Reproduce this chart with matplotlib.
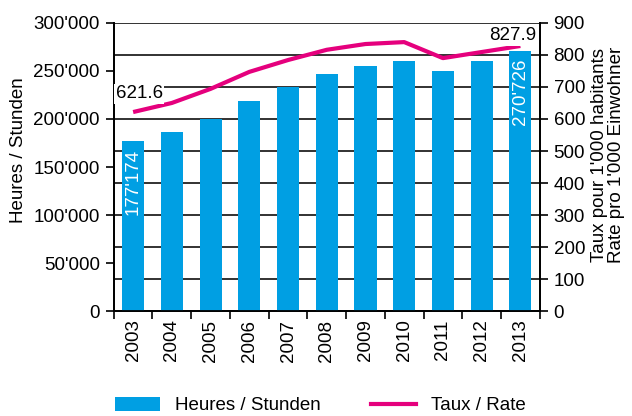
import matplotlib.pyplot as plt
import numpy as np
from matplotlib.ticker import FuncFormatter
from matplotlib.patches import Patch
from matplotlib.lines import Line2D

plt.rcParams['font.family'] = ['Liberation Sans', 'DejaVu Sans']

years = ['2003', '2004', '2005', '2006', '2007', '2008', '2009', '2010', '2011', '2012', '2013']
hours = [177174, 186500, 200000, 218700, 233300, 246900, 255200, 260400, 250300, 260400, 270726]
rate = [621.6, 650, 694, 747, 784, 816, 834, 840, 790, 809, 827.9]

BLUE = '#009fe3'
PINK = '#e5007d'
FS = 13.5


def fmt_thousands(v, pos):
    return '{:,.0f}'.format(v).replace(',', "'")


fig = plt.figure(figsize=(6.32, 4.16), dpi=100)
ax = fig.add_axes([0.180, 0.252, 0.674, 0.693])
ax2 = ax.twinx()

x = np.arange(len(years))

# gridlines follow the right axis ticks
for v in range(100, 1000, 100):
    ax2.axhline(v, color='#222222', lw=1.3, zorder=0)

ax.set_zorder(ax2.get_zorder() + 1)
ax.patch.set_visible(False)
ax.bar(x, hours, width=0.57, color=BLUE, zorder=2)
ax.set_ylim(0, 300000)
ax.set_xlim(-0.5, len(years) - 0.5)
ax.set_yticks(np.arange(0, 300001, 50000))
ax.yaxis.set_major_formatter(FuncFormatter(fmt_thousands))
ax.set_xticks(x)
ax.set_xticklabels(years, rotation=90)
ax.set_xticks(np.arange(-0.5, len(years), 1), minor=True)
ax.tick_params(axis='x', which='major', length=0, labelsize=FS, pad=6)
ax.tick_params(axis='x', which='minor', length=6, width=1.2, direction='out')
ax.tick_params(axis='y', length=6, width=1.2, labelsize=FS, pad=4)

rate_scaled = [r * 300000 / 900 for r in rate]
ax.plot(x, rate_scaled, color=PINK, lw=3, zorder=3, solid_capstyle='butt')

ax2.set_ylim(0, 900)
ax2.set_yticks(np.arange(0, 901, 100))
ax2.tick_params(axis='y', length=6, width=1.2, labelsize=FS, pad=4)

# axis titles placed in figure pixels
fig.text(19 / 632, 1 - 150 / 416, 'Heures / Stunden', rotation=90, ha='center',
         va='center', fontsize=FS)
fig.text(608 / 632, 1 - 155 / 416, "Taux pour 1'000 habitants\nRate pro 1'000 Einwohner",
         rotation=90, ha='center', va='center', fontsize=FS, linespacing=0.95)

for sp in ['left', 'right', 'bottom', 'top']:
    ax.spines[sp].set_linewidth(1.3)
    ax2.spines[sp].set_linewidth(1.3)
ax2.spines['top'].set_visible(False)
ax.spines['top'].set_visible(False)

# value labels inside first and last bars
for i in [0, len(years) - 1]:
    ax.text(x[i], hours[i] - 8000, fmt_thousands(hours[i], None), rotation=90,
            ha='center', va='top', color='white', fontsize=FS)

ax.text(x[0] - 0.45, rate_scaled[0] + 10000, '621.6', ha='left', va='bottom', fontsize=FS,
        bbox=dict(facecolor='white', edgecolor='none', pad=1))
ax.text(x[-1] + 0.4, rate_scaled[-1] + 6000, '827.9', ha='right', va='baseline', fontsize=FS,
        bbox=dict(facecolor='white', edgecolor='none', pad=1))

handles = [Patch(facecolor=BLUE, edgecolor='none'),
           Line2D([0], [0], color=PINK, lw=3)]
fig.legend(handles, ['Heures / Stunden', 'Taux / Rate'], loc='center',
           bbox_to_anchor=(0.507, 0.025), ncol=2, frameon=False, fontsize=FS,
           handlelength=2.4, handleheight=0.75, handletextpad=0.8, columnspacing=2.65)

fig.savefig('out.png', dpi=100)
